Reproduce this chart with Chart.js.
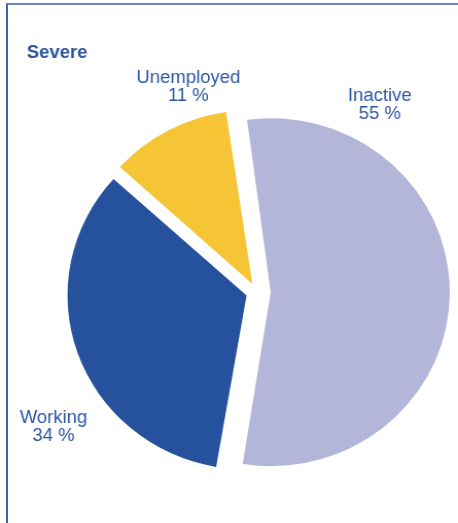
<!DOCTYPE html>
<html>
<head>
<meta charset="utf-8">
<script src="https://cdn.jsdelivr.net/npm/chart.js@4.4.1/dist/chart.umd.min.js"></script>
<style>
  html, body { margin: 0; padding: 0; background: #fff; }
  body { width: 458px; height: 523px; position: relative; overflow: hidden; }
  #cadre {
    position: absolute; left: 6px; top: 3px; right: 0; bottom: 0;
    border-top: 2px solid #6884c4; border-left: 2px solid #3f63ae;
  }
  #zone {
    position: absolute; left: 0; top: 0; width: 445px; height: 523px;
    transform: scaleX(1.0292); transform-origin: 0 0;
  }
</style>
</head>
<body>
<div id="cadre"></div>
<div id="zone"><canvas id="camembert" width="445" height="523"></canvas></div>
<script>
// situations (ordre des parts, sens horaire depuis le haut)
const categories = ["Inactive", "Working", "Unemployed"];
const parts = [55, 34, 11];
const titre = "Severe";

const couleurs = ["#b4b6d9", "#26519c", "#f5c535"];
const texteBleu = "#2d56a1";

// position des étiquettes (centre du texte, ligne de base du nom)
const posEtiquettes = [
  { x: 369, y: 101 },
  { x: 52, y: 423 },
  { x: 183, y: 83 }
];

// Chart.js v4 décale de offset/4 et grossit aussi le rayon de la part :
// on remet toutes les parts au même rayon
const memeRayon = {
  id: "memeRayon",
  beforeDatasetsDraw(chart) {
    const meta = chart.getDatasetMeta(0);
    const r = meta.controller.outerRadius;
    meta.data.forEach(arc => {
      const fix = 1 - Math.sin(Math.min(Math.PI, arc.circumference || 0));
      const dec = (arc.options.offset || 0) / 4;
      arc.outerRadius = r - dec * fix;
    });
  }
};

// titre + étiquettes dessinés à la main après le graphique
const etiquettes = {
  id: "etiquettes",
  afterDraw(chart) {
    const ctx = chart.ctx;
    ctx.save();
    ctx.fillStyle = texteBleu;
    ctx.textBaseline = "alphabetic";

    ctx.font = "bold 18px 'Liberation Sans', Arial, sans-serif";
    ctx.textAlign = "left";
    ctx.fillText(titre, 26, 58);

    ctx.font = "18px 'Liberation Sans', Arial, sans-serif";
    ctx.textAlign = "center";
    categories.forEach((nom, i) => {
      const p = posEtiquettes[i];
      ctx.fillText(nom, p.x, p.y);
      ctx.fillText(parts[i] + " %", p.x, p.y + 18);
    });
    ctx.restore();
  }
};

const ctx = document.getElementById("camembert").getContext("2d");

new Chart(ctx, {
  type: "pie",
  data: {
    labels: categories,
    datasets: [{
      data: parts,
      backgroundColor: couleurs,
      borderWidth: 0,
      offset: [54, 42, 36],
      hoverOffset: 0
    }]
  },
  options: {
    responsive: false,
    animation: false,
    rotation: -8.3,
    radius: 174,
    layout: { padding: { left: 54, right: 0, top: 61, bottom: 0 } },
    plugins: {
      legend: { display: false },
      tooltip: { enabled: false }
    },
    events: []
  },
  plugins: [memeRayon, etiquettes]
});
</script>
</body>
</html>
